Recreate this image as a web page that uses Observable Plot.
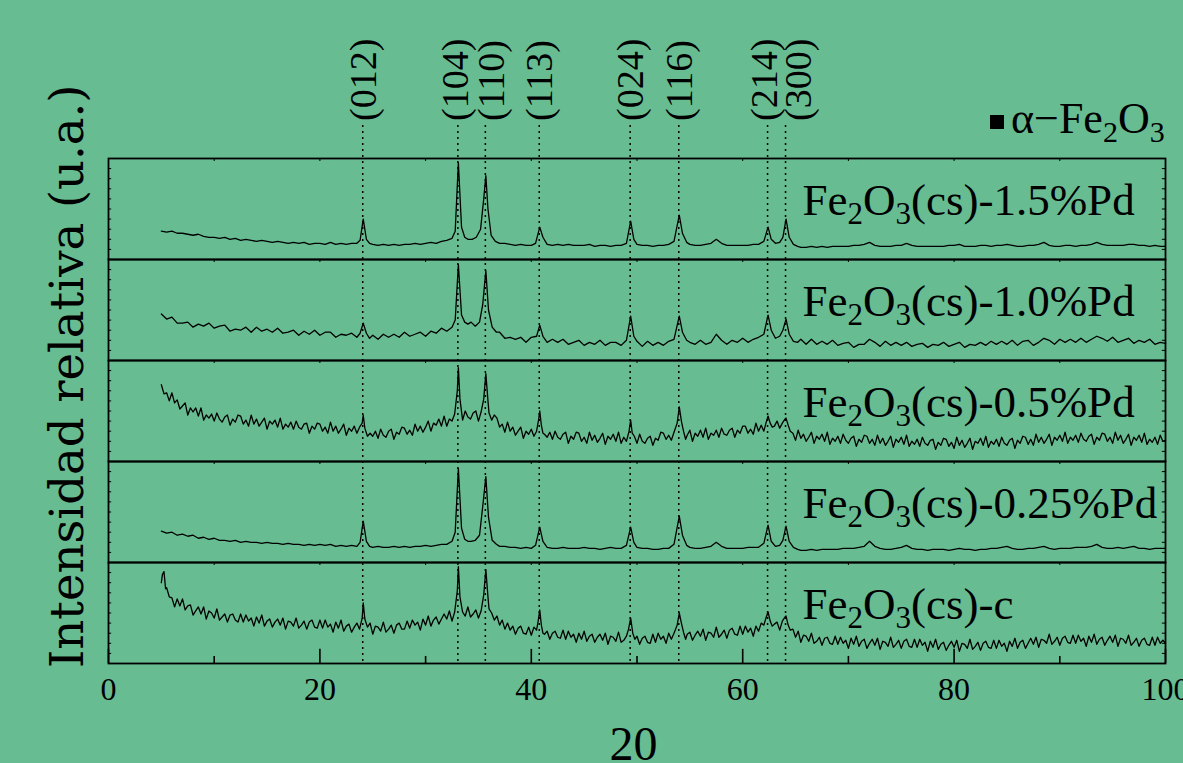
<!DOCTYPE html>
<html>
<head>
<meta charset="utf-8">
<script src="https://cdn.jsdelivr.net/npm/d3@7"></script>
<script src="https://cdn.jsdelivr.net/npm/@observablehq/plot@0.6"></script>
<style>
  html, body { margin: 0; padding: 0; background: #68bc91; overflow: hidden; }
</style>
</head>
<body>
<div id="chart"></div>
<script>
// ---------- DATA ----------
const samples = ["Fe2O3(cs)-1.5%Pd", "Fe2O3(cs)-1.0%Pd", "Fe2O3(cs)-0.5%Pd", "Fe2O3(cs)-0.25%Pd", "Fe2O3(cs)-c"];
const peakPositions = [24.1, 33.1, 35.7, 40.8, 49.4, 54.0, 62.4, 64.1];
const peakLabels = ["(012)", "(104)", "(110)", "(113)", "(024)", "(116)", "(214)", "(300)"];
const xTickLabels = [0, 20, 40, 60, 80, 100];
const xMinorTicks = [10, 30, 50, 70, 90];
const xTopTicks = [0, 10, 20, 30, 40, 50, 60, 70, 80, 90, 100];
const ySideTicks = [0, 10, 20, 30, 40, 50, 60, 70, 80, 90, 100];
const xTitle = "20";
const yTitle = "Intensidad relativa (u.a.)";

// intensity (a.u., each panel 0-100) vs 2θ
const series15 = [[5,28],[5.5,27],[6,28],[6.5,26],[7,26],[7.5,25],[8,24],[8.5,25],[9,23],[9.5,22],[10,22],[10.5,21],[11,22],[11.5,20],[12,21],[12.5,19],[13,20],[13.5,19],[14,18],[14.5,19],[15,18],[15.5,17],[16,18],[16.5,17],[17,16],[17.5,17],[18,16],[18.5,17],[19,15],[19.5,16],[20,16],[20.5,15],[21,17],[21.5,15],[22,16],[22.5,15],[23,16],[23.5,16],[23.8,19],[24.1,40],[24.4,20],[24.7,16],[25,15],[25.5,14],[26,15],[26.5,14],[27,15],[27.5,14],[28,15],[28.5,15],[29,16],[29.5,15],[30,16],[30.5,17],[31,16],[31.5,18],[32,19],[32.5,21],[32.8,28],[33.1,96],[33.4,32],[33.7,22],[34,20],[34.4,20],[34.8,22],[35.2,30],[35.5,60],[35.7,83],[35.9,50],[36.2,24],[36.6,18],[37,16],[37.5,16],[38,15],[38.5,14],[39,15],[39.5,14],[40,14],[40.4,16],[40.8,32],[41.1,22],[41.5,15],[42,14],[42.5,15],[43,14],[43.5,15],[44,14],[44.5,14],[45,14],[45.5,15],[46,13],[46.5,14],[47,14],[47.5,13],[48,14],[48.5,14],[49,16],[49.4,38],[49.7,20],[50,15],[50.5,14],[51,14],[51.5,13],[52,14],[52.5,14],[53,15],[53.5,18],[54,44],[54.3,26],[54.7,17],[55,15],[55.5,14],[56,14],[56.5,15],[57,16],[57.5,20],[58,16],[58.5,14],[59,14],[59.5,14],[60,14],[60.5,14],[61,15],[61.5,15],[62,18],[62.4,32],[62.7,20],[63.1,16],[63.5,17],[63.8,22],[64.1,40],[64.4,22],[64.8,15],[65.2,13],[65.5,12],[66,12],[66.5,13],[67,12],[67.5,13],[68,12],[68.5,13],[69,13],[69.5,13],[70,13],[70.5,14],[71,14],[71.5,15],[72,17],[72.5,14],[73,13],[73.5,13],[74,13],[74.5,14],[75,14],[75.5,16],[76,14],[76.5,13],[77,13],[77.5,13],[78,13],[78.5,13],[79,13],[79.5,14],[80,14],[80.5,15],[81,13],[81.5,13],[82,13],[82.5,14],[83,14],[83.5,13],[84,14],[84.5,14],[85,15],[85.5,14],[86,13],[86.5,13],[87,14],[87.5,14],[88,15],[88.5,17],[89,14],[89.5,13],[90,13],[90.5,14],[91,14],[91.5,13],[92,14],[92.5,14],[93,15],[93.5,17],[94,15],[94.5,14],[95,14],[95.5,14],[96,14],[96.5,15],[97,15],[97.5,14],[98,14],[98.5,13],[99,14],[99.5,13],[100,13]];

const series10 = [[5,46],[5.5,41],[6,43],[6.5,37],[7,37],[7.5,38],[8,33],[8.5,36],[9,34],[9.5,37],[10,32],[10.5,34],[11,35],[11.5,29],[12,31],[12.5,30],[13,33],[13.5,28],[14,33],[14.5,29],[15,31],[15.5,28],[16,32],[16.5,27],[17,28],[17.5,30],[18,25],[18.5,29],[19,26],[19.5,30],[20,25],[20.5,28],[21,28],[21.5,23],[22,26],[22.5,25],[23,27],[23.5,23],[23.8,27],[24.1,37],[24.4,27],[24.7,22],[25,25],[25.5,21],[26,26],[26.5,23],[27,26],[27.5,23],[28,28],[28.5,24],[29,26],[29.5,28],[30,24],[30.5,29],[31,27],[31.5,32],[32,29],[32.5,33],[32.8,40],[33.1,95],[33.4,45],[33.7,38],[34,36],[34.3,38],[34.7,34],[35.1,38],[35.4,55],[35.7,89],[35.95,50],[36.3,33],[36.7,28],[37,28],[37.5,22],[38,23],[38.5,21],[39,23],[39.5,18],[40,23],[40.5,24],[40.8,35],[41.1,24],[41.5,18],[42,21],[42.5,18],[43,21],[43.5,16],[44,18],[44.5,20],[45,15],[45.5,18],[46,16],[46.5,20],[47,15],[47.5,18],[48,18],[48.5,15],[49,20],[49.4,44],[49.7,24],[50,19],[50.5,14],[51,19],[51.5,15],[52,18],[52.5,15],[53,19],[53.5,21],[54,44],[54.3,28],[54.7,20],[55,18],[55.5,16],[56,20],[56.5,16],[57,18],[57.5,26],[58,20],[58.5,16],[59,20],[59.5,18],[60,22],[60.5,18],[61,21],[61.5,23],[62,26],[62.4,45],[62.7,30],[63.1,22],[63.5,24],[63.8,30],[64.1,41],[64.4,26],[64.8,19],[65.2,18],[65.5,21],[66,16],[66.5,21],[67,16],[67.5,19],[68,16],[68.5,20],[69,15],[69.5,17],[70,18],[70.5,13],[71,16],[71.5,16],[72,21],[72.5,18],[73,14],[73.5,19],[74,15],[74.5,18],[75,15],[75.5,18],[76,14],[76.5,16],[77,17],[77.5,13],[78,16],[78.5,15],[79,18],[79.5,14],[80,16],[80.5,18],[81,13],[81.5,16],[82,15],[82.5,18],[83,15],[83.5,19],[84,16],[84.5,19],[85,16],[85.5,20],[86,15],[86.5,19],[87,20],[87.5,15],[88,18],[88.5,22],[89,20],[89.5,16],[90,21],[90.5,18],[91,21],[91.5,18],[92,22],[92.5,18],[93,21],[93.5,24],[94,22],[94.5,19],[95,23],[95.5,18],[96,20],[96.5,22],[97,17],[97.5,20],[98,18],[98.5,21],[99,16],[99.5,18],[100,17]];

const series05 = [[5,76],[5.25,67],[5.5,68],[5.75,60],[6,68],[6.25,58],[6.5,61],[6.75,52],[7,55],[7.25,58],[7.5,46],[7.75,53],[8,49],[8.25,53],[8.5,45],[8.75,53],[9,41],[9.25,46],[9.5,43],[9.75,47],[10,40],[10.25,48],[10.5,42],[10.75,39],[11,44],[11.25,46],[11.5,36],[11.75,42],[12,39],[12.25,46],[12.5,45],[12.75,37],[13,41],[13.25,35],[13.5,46],[13.75,37],[14,42],[14.25,35],[14.5,39],[14.75,43],[15,32],[15.25,40],[15.5,37],[15.75,41],[16,34],[16.25,43],[16.5,32],[16.75,37],[17,34],[17.25,39],[17.5,32],[17.75,40],[18,34],[18.25,32],[18.5,37],[18.75,38],[19,28],[19.25,35],[19.5,32],[19.75,38],[20,37],[20.25,30],[20.5,34],[20.75,28],[21,39],[21.25,30],[21.5,35],[21.75,28],[22,32],[22.25,37],[22.5,26],[22.75,33],[23,30],[23.25,35],[23.5,28],[23.75,34],[24,38],[24.1,46],[24.25,33],[24.5,25],[24.75,28],[25,25],[25.25,30],[25.5,23],[25.75,32],[26,26],[26.25,24],[26.5,30],[26.75,32],[27,22],[27.25,29],[27.5,27],[27.75,34],[28,33],[28.25,27],[28.5,31],[28.75,26],[29,37],[29.25,30],[29.5,35],[29.75,29],[30,34],[30.25,40],[30.5,30],[30.75,38],[31,36],[31.25,42],[31.5,35],[31.75,45],[32,35],[32.25,42],[32.5,40],[32.75,47],[33,70],[33.1,93],[33.25,62],[33.5,41],[33.75,50],[34,44],[34.25,42],[34.5,48],[34.75,50],[35,40],[35.25,49],[35.5,62],[35.7,87],[35.9,60],[36,48],[36.25,41],[36.5,46],[36.75,43],[37,34],[37.25,37],[37.5,29],[37.75,39],[38,30],[38.25,34],[38.5,26],[38.75,30],[39,34],[39.25,23],[39.5,30],[39.75,27],[40,32],[40.25,25],[40.5,30],[40.7,42],[40.8,50],[40.95,36],[41.1,28],[41.25,27],[41.5,24],[41.75,29],[42,22],[42.25,30],[42.5,24],[42.75,22],[43,27],[43.25,29],[43.5,18],[43.75,25],[44,22],[44.25,29],[44.5,28],[44.75,20],[45,24],[45.25,18],[45.5,29],[45.75,21],[46,26],[46.25,19],[46.5,23],[46.75,28],[47,17],[47.25,25],[47.5,22],[47.75,27],[48,20],[48.25,29],[48.5,18],[48.75,24],[49,20],[49.25,30],[49.4,41],[49.55,28],[49.75,25],[50,18],[50.25,27],[50.5,20],[50.75,18],[51,23],[51.25,25],[51.5,16],[51.75,23],[52,21],[52.25,29],[52.5,28],[52.75,22],[53,26],[53.25,21],[53.5,29],[53.8,38],[54,54],[54.2,40],[54.4,30],[54.6,22],[54.75,26],[55,31],[55.25,20],[55.5,28],[55.75,25],[56,31],[56.25,24],[56.5,33],[56.75,22],[57,28],[57.25,26],[57.5,31],[57.75,24],[58,33],[58.25,27],[58.5,26],[58.75,31],[59,33],[59.25,24],[59.5,31],[59.75,28],[60,35],[60.25,35],[60.5,28],[60.75,32],[61,27],[61.25,38],[61.5,30],[61.75,36],[62,30],[62.2,38],[62.4,45],[62.6,38],[62.8,34],[63,35],[63.25,40],[63.5,33],[63.75,38],[64,42],[64.1,43],[64.3,36],[64.5,30],[64.75,28],[65,21],[65.25,31],[65.5,23],[65.75,27],[66,20],[66.25,24],[66.5,29],[66.75,18],[67,25],[67.25,22],[67.5,27],[67.75,20],[68,29],[68.25,17],[68.5,23],[68.75,20],[69,25],[69.25,18],[69.5,27],[69.75,21],[70,18],[70.25,23],[70.5,25],[70.75,15],[71,22],[71.25,19],[71.5,26],[71.75,25],[72,18],[72.25,22],[72.5,16],[72.75,26],[73,18],[73.25,23],[73.5,16],[73.75,20],[74,25],[74.25,14],[74.5,22],[74.75,19],[75,24],[75.25,17],[75.5,26],[75.75,15],[76,20],[76.25,17],[76.5,22],[76.75,15],[77,24],[77.25,18],[77.5,16],[77.75,21],[78,22],[78.25,12],[78.5,19],[78.75,16],[79,23],[79.25,22],[79.5,15],[79.75,19],[80,13],[80.25,24],[80.5,16],[80.75,21],[81,14],[81.25,18],[81.5,23],[81.75,12],[82,20],[82.25,18],[82.5,23],[82.75,16],[83,25],[83.25,14],[83.5,20],[83.75,17],[84,22],[84.25,15],[84.5,24],[84.75,18],[85,16],[85.25,21],[85.5,23],[85.75,13],[86,21],[86.25,18],[86.5,25],[86.75,24],[87,17],[87.25,22],[87.5,16],[87.75,27],[88,19],[88.25,24],[88.5,18],[88.75,22],[89,27],[89.25,16],[89.5,24],[89.75,21],[90,26],[90.25,20],[90.5,29],[90.75,18],[91,24],[91.25,21],[91.5,26],[91.75,19],[92,28],[92.25,22],[92.5,20],[92.75,25],[93,27],[93.25,17],[93.5,24],[93.75,21],[94,28],[94.25,27],[94.5,20],[94.75,24],[95,18],[95.25,29],[95.5,21],[95.75,26],[96,18],[96.25,22],[96.5,27],[96.75,16],[97,24],[97.25,21],[97.5,26],[97.75,19],[98,28],[98.25,17],[98.5,22],[98.75,19],[99,24],[99.25,17],[99.5,26],[99.75,20],[100,21]];

const series025 = [[5,31],[5.5,29],[6,30],[6.5,27],[7,28],[7.5,26],[8,27],[8.5,24],[9,25],[9.5,23],[10,24],[10.5,22],[11,22],[11.5,21],[12,22],[12.5,20],[13,21],[13.5,20],[14,20],[14.5,19],[15,20],[15.5,19],[16,19],[16.5,18],[17,19],[17.5,18],[18,18],[18.5,17],[19,18],[19.5,17],[20,18],[20.5,17],[21,18],[21.5,16],[22,17],[22.5,16],[23,17],[23.5,16],[23.8,20],[24.1,41],[24.4,21],[24.7,16],[25,15],[25.5,16],[26,15],[26.5,15],[27,16],[27.5,15],[28,16],[28.5,15],[29,16],[29.5,16],[30,17],[30.5,16],[31,17],[31.5,18],[32,18],[32.5,21],[32.8,30],[33.1,93],[33.4,34],[33.7,23],[34,21],[34.3,21],[34.7,22],[35.1,27],[35.4,55],[35.7,85],[35.95,45],[36.3,22],[36.7,18],[37,16],[37.5,16],[38,15],[38.5,15],[39,14],[39.5,15],[40,14],[40.4,17],[40.8,35],[41.1,21],[41.5,15],[42,14],[42.5,14],[43,15],[43.5,14],[44,14],[44.5,14],[45,15],[45.5,14],[46,14],[46.5,13],[47,14],[47.5,15],[48,14],[48.5,14],[49,17],[49.4,35],[49.7,20],[50,15],[50.5,14],[51,14],[51.5,13],[52,13],[52.5,14],[53,14],[53.5,18],[54,46],[54.3,27],[54.7,17],[55,15],[55.5,14],[56,14],[56.5,15],[57,16],[57.5,20],[58,16],[58.5,14],[59,14],[59.5,14],[60,14],[60.5,15],[61,15],[61.5,15],[62,19],[62.4,37],[62.7,21],[63.1,16],[63.5,17],[63.8,22],[64.1,36],[64.4,21],[64.8,15],[65.2,13],[65.5,12],[66,12],[66.5,13],[67,12],[67.5,13],[68,13],[68.5,13],[69,13],[69.5,14],[70,14],[70.5,14],[71,15],[71.5,16],[72,21],[72.5,16],[73,14],[73.5,13],[74,13],[74.5,14],[75,15],[75.5,17],[76,14],[76.5,13],[77,13],[77.5,12],[78,13],[78.5,13],[79,13],[79.5,12],[80,13],[80.5,14],[81,13],[81.5,13],[82,12],[82.5,13],[83,13],[83.5,14],[84,14],[84.5,15],[85,16],[85.5,14],[86,13],[86.5,13],[87,14],[87.5,14],[88,15],[88.5,16],[89,14],[89.5,13],[90,14],[90.5,14],[91,14],[91.5,15],[92,15],[92.5,15],[93,16],[93.5,18],[94,15],[94.5,14],[95,14],[95.5,15],[96,14],[96.5,15],[97,16],[97.5,14],[98,14],[98.5,13],[99,14],[99.5,14],[100,14]];

const seriesC = [[5,80],[5.1,88],[5.25,91],[5.4,74],[5.5,75],[5.75,66],[6,65],[6.25,56],[6.5,64],[6.75,57],[7,64],[7.25,53],[7.5,57],[7.75,58],[8,48],[8.25,52],[8.5,56],[8.75,49],[9,56],[9.25,44],[9.5,52],[9.75,50],[10,45],[10.25,54],[10.5,43],[10.75,46],[11,49],[11.25,41],[11.5,48],[11.75,49],[12,43],[12.25,41],[12.5,49],[12.75,41],[13,48],[13.25,42],[13.5,45],[13.75,37],[14,46],[14.25,40],[14.5,48],[14.75,37],[15,42],[15.25,44],[15.5,36],[15.75,41],[16,44],[16.25,38],[16.5,45],[16.75,34],[17,42],[17.25,41],[17.5,37],[17.75,45],[18,35],[18.25,38],[18.5,42],[18.75,34],[19,41],[19.25,43],[19.5,36],[19.75,35],[20,43],[20.25,35],[20.5,43],[20.75,36],[21,39],[21.25,31],[21.5,41],[21.75,35],[22,43],[22.25,32],[22.5,37],[22.75,39],[23,31],[23.25,36],[23.5,40],[23.75,34],[24,45],[24.1,60],[24.25,44],[24.5,36],[24.75,40],[25,29],[25.25,37],[25.5,36],[25.75,32],[26,41],[26.25,31],[26.5,34],[26.75,38],[27,30],[27.25,38],[27.5,40],[27.75,34],[28,34],[28.25,42],[28.5,35],[28.75,43],[29,38],[29.25,41],[29.5,33],[29.75,44],[30,38],[30.25,47],[30.5,37],[30.75,43],[31,46],[31.25,39],[31.5,44],[31.75,49],[32,44],[32.25,52],[32.5,42],[32.75,51],[33,72],[33.1,96],[33.25,66],[33.5,51],[33.75,47],[34,56],[34.25,46],[34.5,49],[34.75,53],[35,45],[35.25,52],[35.5,68],[35.7,93],[35.9,66],[36,54],[36.25,50],[36.5,43],[36.75,47],[37,38],[37.25,43],[37.5,34],[37.75,40],[38,33],[38.25,37],[38.5,29],[38.75,35],[39,37],[39.25,30],[39.5,29],[39.75,36],[40,28],[40.25,36],[40.5,33],[40.65,42],[40.8,53],[40.95,38],[41.1,30],[41.25,29],[41.5,32],[41.75,24],[42,30],[42.25,32],[42.5,26],[42.75,25],[43,33],[43.25,24],[43.5,32],[43.75,26],[44,29],[44.25,21],[44.5,30],[44.75,24],[45,32],[45.25,22],[45.5,27],[45.75,29],[46,21],[46.25,26],[46.5,29],[46.75,23],[47,30],[47.25,19],[47.5,27],[47.75,26],[48,22],[48.25,31],[48.5,21],[48.75,23],[49,27],[49.2,34],[49.4,45],[49.6,30],[49.8,24],[50,27],[50.25,19],[50.5,25],[50.75,27],[51,21],[51.25,20],[51.5,29],[51.75,21],[52,30],[52.25,24],[52.5,27],[52.75,20],[53,30],[53.25,24],[53.5,30],[53.8,38],[54,50],[54.2,40],[54.4,31],[54.6,24],[54.75,29],[55,31],[55.25,23],[55.5,28],[55.75,32],[56,27],[56.25,34],[56.5,23],[56.75,31],[57,30],[57.25,26],[57.5,36],[57.75,26],[58,29],[58.25,33],[58.5,25],[58.75,33],[59,35],[59.25,29],[59.5,28],[59.75,37],[60,29],[60.25,37],[60.5,31],[60.75,35],[61,27],[61.25,37],[61.5,32],[61.75,40],[62,38],[62.2,45],[62.4,51],[62.6,42],[62.8,37],[63,39],[63.25,41],[63.5,33],[63.75,42],[64,46],[64.1,47],[64.3,38],[64.5,33],[64.75,34],[65,26],[65.25,32],[65.5,21],[65.75,28],[66,27],[66.25,22],[66.5,30],[66.75,20],[67,22],[67.25,26],[67.5,18],[67.75,25],[68,26],[68.25,20],[68.5,19],[68.75,27],[69,19],[69.25,26],[69.5,20],[69.75,23],[70,15],[70.25,25],[70.5,19],[70.75,27],[71,17],[71.25,22],[71.5,24],[71.75,15],[72,20],[72.25,24],[72.5,18],[72.75,25],[73,14],[73.25,22],[73.5,21],[73.75,17],[74,26],[74.25,16],[74.5,19],[74.75,23],[75,15],[75.25,22],[75.5,24],[75.75,17],[76,16],[76.25,24],[76.5,16],[76.75,24],[77,18],[77.25,21],[77.5,12],[77.75,22],[78,16],[78.25,24],[78.5,14],[78.75,19],[79,21],[79.25,13],[79.5,18],[79.75,22],[80,16],[80.25,23],[80.5,12],[80.75,20],[81,19],[81.25,15],[81.5,24],[81.75,14],[82,17],[82.25,21],[82.5,13],[82.75,20],[83,22],[83.25,16],[83.5,15],[83.75,23],[84,15],[84.25,23],[84.5,17],[84.75,20],[85,12],[85.25,22],[85.5,17],[85.75,25],[86,15],[86.25,21],[86.5,23],[86.75,15],[87,20],[87.25,25],[87.5,19],[87.75,26],[88,16],[88.25,24],[88.5,23],[88.75,20],[89,29],[89.25,19],[89.5,22],[89.75,26],[90,18],[90.25,25],[90.5,27],[90.75,21],[91,20],[91.25,28],[91.5,20],[91.75,28],[92,22],[92.25,25],[92.5,17],[92.75,27],[93,21],[93.25,29],[93.5,19],[93.75,24],[94,26],[94.25,18],[94.5,23],[94.75,27],[95,21],[95.25,28],[95.5,17],[95.75,25],[96,24],[96.25,20],[96.5,28],[96.75,18],[97,21],[97.25,25],[97.5,17],[97.75,23],[98,25],[98.25,19],[98.5,18],[98.75,26],[99,18],[99.25,26],[99.5,20],[99.75,23],[100,20]];

const seriesList = [series15, series10, series05, series025, seriesC];

// ---------- CHART ----------
const BG = "#68bc91";
const SERIF = "'Liberation Serif', serif";
const rows = samples.flatMap((s, i) => seriesList[i].map(([x, y]) => ({sample: s, x, y})));
const last = samples[samples.length - 1];

const chart = Plot.plot({
  width: 1183,
  height: 763,
  marginLeft: 108,
  marginRight: 18,
  marginTop: 158,
  marginBottom: 100,
  style: {background: BG, fontFamily: SERIF, color: "black", overflow: "visible"},
  x: {domain: [0, 100]},
  y: {domain: [0, 100], axis: null},
  fy: {domain: samples, axis: null, padding: 0},
  marks: [
    Plot.line(rows, {x: "x", y: "y", fy: "sample", stroke: "black", strokeWidth: 1.3}),
    Plot.ruleX(xTopTicks, {x: d => d, y1: 100, y2: 97, stroke: "black", strokeWidth: 1}),
    Plot.ruleY(ySideTicks, {y: d => d, x1: 0, x2: 0.3, stroke: "black", strokeWidth: 1}),
    Plot.ruleY(ySideTicks, {y: d => d, x1: 99.7, x2: 100, stroke: "black", strokeWidth: 1}),
    Plot.ruleX(xTickLabels, {x: d => d, y1: 0, y2: 14, fy: () => last, stroke: "black", strokeWidth: 1.6}),
    Plot.ruleX(xMinorTicks, {x: d => d, y1: 0, y2: 7, fy: () => last, stroke: "black", strokeWidth: 1.6}),
    Plot.frame({stroke: "black", strokeWidth: 1.8}),
    Plot.axisX({ticks: xTickLabels, tickSize: 0, tickPadding: 14, fontSize: 32, label: null, tickFormat: d => String(d)})
  ]
});
document.getElementById("chart").appendChild(chart);

// ---------- ANNOTATIONS (text) ----------
const svg = d3.select(chart);
const X = chart.scale("x");
const FY = chart.scale("fy");
const panelTop = FY.apply(samples[0]);
const bw = FY.bandwidth;
const panelBottom = FY.apply(last) + bw;

// dotted reference lines + Miller indices
const labelShift = {"(104)": -3, "(110)": 6, "(214)": -3, "(300)": 13};
const ann = svg.append("g").attr("text-anchor", "start");
peakPositions.forEach((p, i) => {
  const px = X.apply(p);
  ann.append("line")
    .attr("x1", px).attr("x2", px)
    .attr("y1", panelTop - 33).attr("y2", panelBottom)
    .attr("stroke", "black").attr("stroke-width", 1.5)
    .attr("stroke-dasharray", "2,4");
  ann.append("text")
    .attr("transform", `translate(${px + (labelShift[peakLabels[i]] || 0)},${panelTop - 37}) rotate(-90)`)
    .attr("dy", "0.34em")
    .attr("text-anchor", "start")
    .attr("font-family", SERIF)
    .attr("font-size", 38)
    .attr("fill", "black")
    .text(peakLabels[i]);
});

function chem(sel, str, size) {
  // "Fe2O3..." with subscripts
  const m = /^Fe2O3(.*)$/.exec(str);
  const sub = Math.round(size * 0.68);
  const shift = Math.round(size * 0.2);
  if (!m) { sel.append("tspan").text(str); return; }
  sel.append("tspan").text("Fe");
  sel.append("tspan").attr("font-size", sub).attr("dy", shift).text("2");
  sel.append("tspan").attr("dy", -shift).text("O");
  sel.append("tspan").attr("font-size", sub).attr("dy", shift).text("3");
  if (m[1]) sel.append("tspan").attr("dy", -shift).text(m[1]);
}

// panel labels
samples.forEach(s => {
  const t = ann.append("text")
    .attr("x", X.apply(65.7))
    .attr("y", FY.apply(s) + 57)
    .attr("text-anchor", "start")
    .attr("font-family", SERIF)
    .attr("font-size", 45)
    .attr("fill", "black");
  chem(t, s, 45);
});

// legend
ann.append("rect")
  .attr("x", X.apply(100) - 175).attr("y", panelTop - 43)
  .attr("width", 14).attr("height", 14).attr("fill", "black");
{
  const t = ann.append("text")
    .attr("x", X.apply(100) - 154).attr("y", panelTop - 25)
    .attr("text-anchor", "start")
    .attr("font-family", SERIF).attr("font-size", 44).attr("fill", "black");
  t.append("tspan").text("α−");
  chem(t, "Fe2O3", 44);
}

// axis titles
ann.append("text")
  .attr("x", X.apply(50) - 3).attr("y", panelBottom + 97)
  .attr("text-anchor", "middle")
  .attr("font-family", SERIF).attr("font-size", 48).attr("fill", "black")
  .text(xTitle);
ann.append("text")
  .attr("transform", `translate(83,${panelBottom + 5}) rotate(-90)`)
  .attr("text-anchor", "start")
  .attr("font-family", "'DejaVu Serif', serif").attr("font-size", 46.5).attr("fill", "black")
  .text(yTitle);
</script>
</body>
</html>
